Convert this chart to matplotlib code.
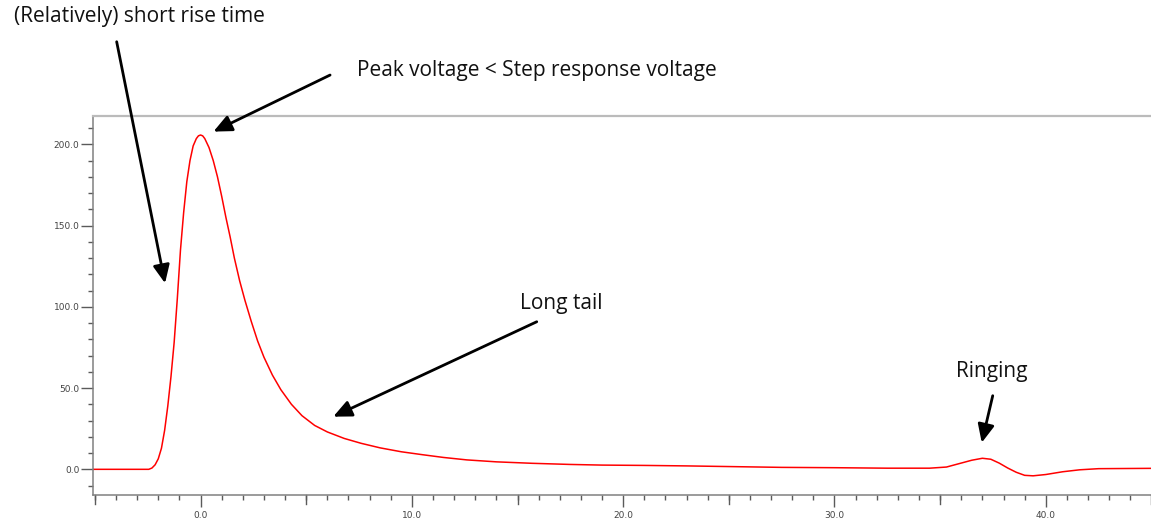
import matplotlib
matplotlib.use("Agg")
import matplotlib.pyplot as plt
from matplotlib.ticker import MultipleLocator, FormatStrFormatter

# Pulse response samples (time, voltage)
time = [-5.1, -2.45, -2.3, -2.15, -2.0, -1.85, -1.7, -1.55, -1.4, -1.25,
        -1.1, -0.95, -0.8, -0.65, -0.5, -0.35, -0.2, -0.1, 0.0, 0.1,
        0.2, 0.4, 0.6, 0.8, 1.0, 1.2, 1.4, 1.6, 1.85, 2.1,
        2.4, 2.7, 3.0, 3.4, 3.8, 4.3, 4.8, 5.4, 6.0, 6.8,
        7.6, 8.5, 9.5, 10.5, 11.5, 12.6, 14.0, 15.7, 17.5, 19.0,
        21.0, 23.0, 25.0, 27.5, 30.0, 32.5, 34.5, 35.3, 35.9, 36.5,
        37.0, 37.4, 37.8, 38.2, 38.6, 39.0, 39.4, 40.0, 40.8, 41.6,
        42.5, 45.0]
voltage = [0.0, 0.0, 0.8, 2.8, 6.5, 13.0, 24.0, 39.0, 57.0, 78.0,
           105.0, 135.0, 158.0, 177.0, 190.0, 199.0, 203.5, 205.2, 205.7, 205.2,
           203.5, 198.0, 190.0, 180.0, 168.0, 155.0, 143.0, 130.0, 116.0, 104.0,
           91.0, 79.0, 69.0, 58.0, 49.0, 40.0, 33.0, 27.0, 23.0, 19.0,
           16.0, 13.2, 10.8, 9.0, 7.3, 5.8, 4.6, 3.7, 3.0, 2.6,
           2.4, 2.1, 1.7, 1.2, 1.0, 0.7, 0.7, 1.4, 3.5, 5.6,
           6.8, 6.2, 3.8, 0.8, -1.8, -3.7, -4.0, -3.2, -1.5, -0.3,
           0.4, 0.6]

# Callouts: label, label position, arrow tail, arrow tip (data units)
notes = [
    ("(Relatively) short rise time", (-2.9, 278.5), (-3.97, 263.1), (-1.68, 114.5)),
    ("Peak voltage < Step response voltage", (15.91, 245.7), (6.13, 242.6), (0.61, 207.8)),
    ("Long tail", (17.05, 102.3), (15.91, 90.8), (6.28, 32.4)),
    ("Ringing", (37.45, 59.9), (37.49, 45.3), (36.97, 16.4)),
]

W, H = 1151, 522
fig = plt.figure(figsize=(W / 100, H / 100), dpi=100)
ax = fig.add_axes([93 / W, 27 / H, (W - 93) / W, 379 / H])

ax.plot(time, voltage, color="#ff0000", lw=1.1)

ax.set_xlim(-5.09, 44.98)
ax.set_ylim(-15.8, 217.4)

ax.xaxis.set_major_locator(MultipleLocator(10))
ax.xaxis.set_minor_locator(MultipleLocator(1))
ax.yaxis.set_major_locator(MultipleLocator(50))
ax.yaxis.set_minor_locator(MultipleLocator(10))
ax.xaxis.set_major_formatter(FormatStrFormatter("%.1f"))
ax.yaxis.set_major_formatter(FormatStrFormatter("%.1f"))

ax.tick_params(which="both", direction="out", colors="#5a5a5a", width=1.0,
               labelsize=6.5, labelcolor="#444444")
ax.tick_params(which="major", length=8.3)
ax.tick_params(axis="y", which="major", pad=1.5)
ax.tick_params(axis="x", which="major", pad=3)
ax.tick_params(which="minor", length=3.6)

# medium ticks at the half decades on the time axis
for t in range(-5, 46, 10):
    ax.plot([t, t], [0, -0.024], transform=ax.get_xaxis_transform(),
            color="#5a5a5a", lw=1.0, clip_on=False)

for side in ("left", "bottom"):
    ax.spines[side].set_color("#808080")
    ax.spines[side].set_linewidth(1.1)
ax.spines["top"].set_color("#bbbbbb")
ax.spines["top"].set_linewidth(1.6)
ax.spines["right"].set_visible(False)

for label, pos, tail, tip in notes:
    ax.text(pos[0], pos[1], label, ha="center", va="center", fontsize=15,
            family="Open Sans", color="#111111", clip_on=False)
    ax.annotate("", xy=tip, xytext=tail, annotation_clip=False,
                arrowprops=dict(arrowstyle="-|>,head_length=1.1,head_width=0.5",
                                mutation_scale=10, color="black", lw=2.0,
                                shrinkA=0, shrinkB=0))

fig.savefig("out.png", dpi=100)
